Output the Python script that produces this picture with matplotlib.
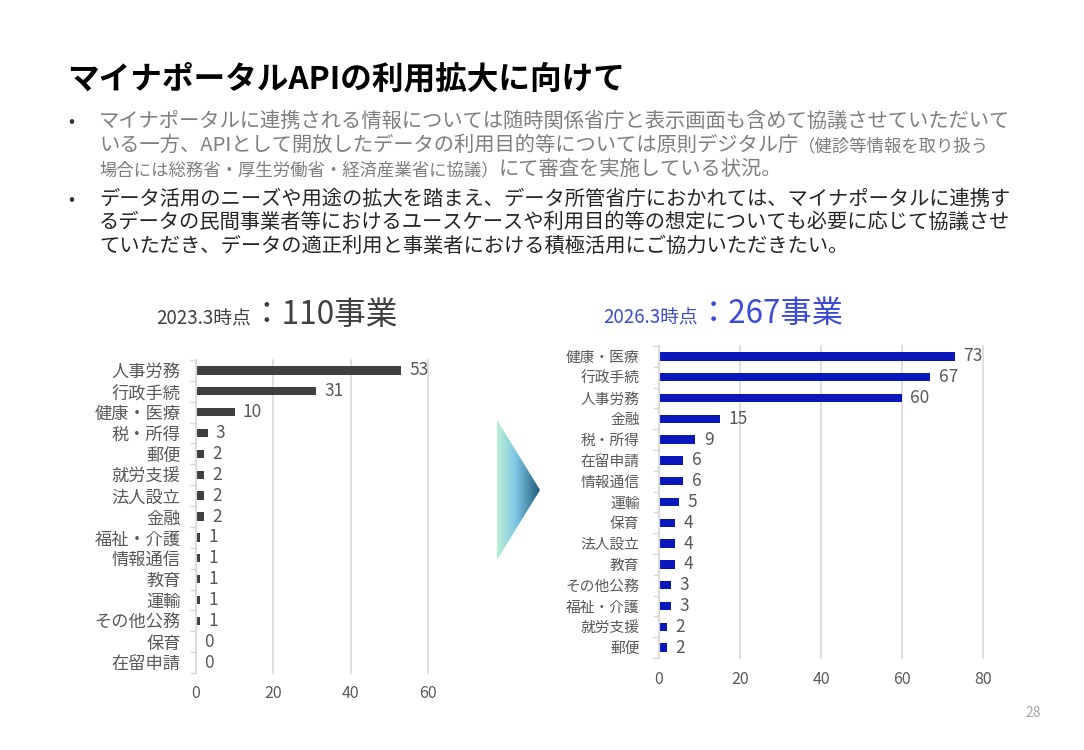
import matplotlib
matplotlib.use('Agg')
import matplotlib.pyplot as plt
import numpy as np
from matplotlib.patches import Polygon
from matplotlib.colors import LinearSegmentedColormap

plt.rcParams['font.family'] = ['Noto Sans CJK JP', 'DejaVu Sans']

# ---------------- data ----------------
cats_2023 = ['人事労務', '行政手続', '健康・医療', '税・所得', '郵便', '就労支援', '法人設立', '金融',
             '福祉・介護', '情報通信', '教育', '運輸', 'その他公務', '保育', '在留申請']
vals_2023 = [53, 31, 10, 3, 2, 2, 2, 2, 1, 1, 1, 1, 1, 0, 0]

cats_2026 = ['健康・医療', '行政手続', '人事労務', '金融', '税・所得', '在留申請', '情報通信', '運輸',
             '保育', '法人設立', '教育', 'その他公務', '福祉・介護', '就労支援', '郵便']
vals_2026 = [73, 67, 60, 15, 9, 6, 6, 5, 4, 4, 4, 3, 3, 2, 2]

ticks_2023 = [0, 20, 40, 60]
ticks_2026 = [0, 20, 40, 60, 80]

title_text = 'マイナポータルAPIの利用拡大に向けて'
bullet1 = [
    [('マイナポータルに連携される情報については随時関係省庁と表示画面も含めて協議させていただいて', 'n')],
    [('いる一方、APIとして開放したデータの利用目的等については原則デジタル庁', 'n'), ('（健診等情報を取り扱う', 's')],
    [('場合には総務省・厚生労働省・経済産業省に協議）', 's'), ('にて審査を実施している状況。', 'n')],
]
bullet2 = [
    [('データ活用のニーズや用途の拡大を踏まえ、データ所管省庁におかれては、マイナポータルに連携す', 'n')],
    [('るデータの民間事業者等におけるユースケースや利用目的等の想定についても必要に応じて協議させ', 'n')],
    [('ていただき、データの適正利用と事業者における積極活用にご協力いただきたい。', 'n')],
]

# ---------------- figure ----------------
W, H = 1084, 750
fig = plt.figure(figsize=(W / 100, H / 100), dpi=100)
fig.patch.set_facecolor('white')

bg = fig.add_axes([0, 0, 1, 1])
bg.set_xlim(0, W)
bg.set_ylim(H, 0)
bg.axis('off')

renderer = fig.canvas.get_renderer()

def seg_line(x, y, segs, sizes, color):
    for s, kind in segs:
        t = bg.text(x, y, s, fontsize=sizes[kind], color=color, va='baseline', ha='left')
        bb = t.get_window_extent(renderer)
        x += bb.width

# title
bg.text(67, 88, title_text, fontsize=22.8, fontweight='bold', color='black', va='baseline', ha='left')

sizes = {'n': 14.6, 's': 12.5}
gray_txt = '#7f7f7f'
dark_txt = '#262626'
base1 = [127, 151, 175]
base2 = [205, 228, 252]
bg.text(68, base1[0], '•', fontsize=13, color='#333333', va='baseline')
bg.text(68, base2[0], '•', fontsize=13, color='#333333', va='baseline')
for segs, yb in zip(bullet1, base1):
    seg_line(99, yb, segs, sizes, gray_txt)
for segs, yb in zip(bullet2, base2):
    seg_line(99, yb, segs, sizes, dark_txt)

# chart titles
def chart_title(x, y, small, big, color, big_size):
    t = bg.text(x, y, small, fontsize=13.5, color=color, va='baseline', ha='left')
    bb = t.get_window_extent(renderer)
    bg.text(x + bb.width, y, '：' + big, fontsize=big_size, color=color, va='baseline', ha='left')

chart_title(156, 324, '2023.3時点', '110事業', '#404040', 22.8)
chart_title(603, 323, '2026.3時点', '267事業', '#3b4bd6', 22.5)

# arrow (gradient triangle)
cmap = LinearSegmentedColormap.from_list('arr', [(0.0, '#bdf0d8'), (0.45, '#7cc6e4'), (1.0, '#1d5a7a')])
grad = np.linspace(0, 1, 256).reshape(1, -1)
im = bg.imshow(grad, extent=[497, 540, 560, 420], aspect='auto', cmap=cmap, zorder=1)
poly = Polygon([[497, 420], [540, 490], [497, 560]], closed=True, transform=bg.transData)
im.set_clip_path(poly)
bg.set_xlim(0, W)
bg.set_ylim(H, 0)

# page number
bg.text(1033, 713, '28', fontsize=10, color='#a6a6a6', ha='center', va='center')

# ---------------- charts ----------------
def px_axes(x, y, w, h):
    return fig.add_axes([x / W, 1 - (y + h) / H, w / W, h / H])

def make_chart(rect, cats, vals, xmax, xticks, color, lab_size, val_size, ypad, xpad):
    ax = px_axes(*rect)
    ax.set_facecolor('none')
    n = len(cats)
    pos = np.arange(n)
    ax.barh(pos, vals, height=0.4, color=color, zorder=3)
    ax.set_ylim(n - 0.5, -0.5)
    ax.set_xlim(0, xmax)
    ax.set_xticks(xticks)
    ax.set_xticklabels([str(t) for t in xticks])
    ax.set_yticks(pos)
    ax.set_yticklabels(cats)
    ax.set_yticks(np.arange(-0.5, n, 1), minor=True)
    ax.tick_params(axis='y', which='major', length=0, pad=ypad, labelsize=lab_size, labelcolor='#595959')
    ax.tick_params(axis='y', which='minor', length=4, color='#d9d9d9', width=1)
    ax.tick_params(axis='x', length=0, pad=xpad, labelsize=11.5, labelcolor='#595959')
    ax.grid(axis='x', color='#d9d9d9', lw=1.2, zorder=0)
    for gl in ax.get_xgridlines():
        gl.set_clip_on(False)
    for s in ['top', 'right', 'bottom']:
        ax.spines[s].set_visible(False)
    ax.spines['left'].set_color('#d9d9d9')
    ax.spines['left'].set_zorder(4)
    for i, v in enumerate(vals):
        ax.annotate(str(v), xy=(v, i), xytext=(6, 0), textcoords='offset points',
                    va='center', ha='left', fontsize=val_size, color='#595959')
    return ax

make_chart((196, 360, 232, 313), cats_2023, vals_2023, 60, ticks_2023, '#404040', 12.4, 12.5, 11, 9)
make_chart((659, 346, 324, 312), cats_2026, vals_2026, 80, ticks_2026, '#0a17ba', 10.6, 12.5, 14, 9)

fig.savefig('out.png', dpi=100, facecolor='white')
